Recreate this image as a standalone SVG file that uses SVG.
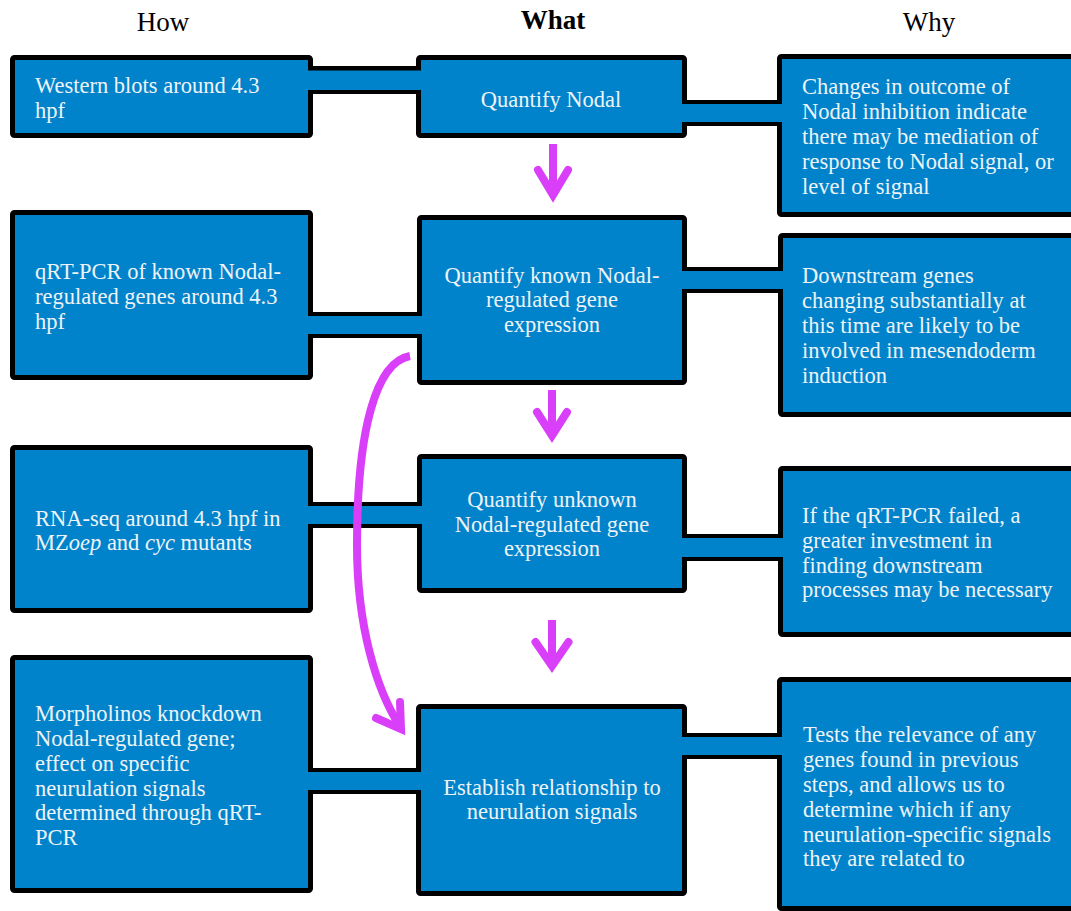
<svg xmlns="http://www.w3.org/2000/svg" width="1071" height="911" viewBox="0 0 1071 911">
<style>
.box{fill:#0083CA;stroke:#000;stroke-width:5;}
.t{font-family:"Liberation Serif","Times New Roman",serif;font-size:22.5px;fill:#EEF3F8;}
.c{text-anchor:middle;}
.h{font-family:"Liberation Serif","Times New Roman",serif;font-size:27px;fill:#000;text-anchor:middle;}
.band{fill:#000;}
.fillb{fill:#0083CA;}
.arr{stroke:#D93FF8;stroke-width:8;fill:none;}
.head{stroke:#D93FF8;stroke-width:8;fill:none;stroke-linecap:round;stroke-linejoin:miter;stroke-miterlimit:10;}
</style>
<rect width="1071" height="911" fill="#fff"/>
<g id="headers">
<text class="h" x="163" y="31">How</text>
<text class="h" x="553" y="29" font-weight="bold">What</text>
<text class="h" x="929" y="31">Why</text>
</g>
<g id="how1"><rect class="box" x="12.5" y="57.5" width="298" height="78" rx="2"/>
<text class="t" x="35" y="93">Western blots around 4.3</text><text class="t" x="35" y="118">hpf</text></g>
<g id="what1"><rect class="box" x="418.5" y="57.5" width="266" height="78" rx="2"/>
<text class="t c" x="551" y="107">Quantify Nodal</text></g>
<g id="why1"><rect class="box" x="779.5" y="56.5" width="300" height="158" rx="2"/>
<text class="t" x="802" y="94">Changes in outcome of</text><text class="t" x="802" y="119">Nodal inhibition indicate</text><text class="t" x="802" y="144">there may be mediation of</text><text class="t" x="802" y="169">response to Nodal signal, or</text><text class="t" x="802" y="194">level of signal</text></g>
<g id="how2"><rect class="box" x="12.5" y="212.5" width="298" height="165" rx="2"/>
<text class="t" x="35" y="279">qRT-PCR of known Nodal-</text><text class="t" x="35" y="304">regulated genes around 4.3</text><text class="t" x="35" y="329">hpf</text></g>
<g id="what2"><rect class="box" x="419.5" y="217.5" width="265" height="165" rx="2"/>
<text class="t c" x="552" y="283">Quantify known Nodal-</text><text class="t c" x="552" y="307">regulated gene</text><text class="t c" x="552" y="332">expression</text></g>
<g id="why2"><rect class="box" x="780.5" y="235.5" width="300" height="179" rx="2"/>
<text class="t" x="802" y="283">Downstream genes</text><text class="t" x="802" y="308">changing substantially at</text><text class="t" x="802" y="333">this time are likely to be</text><text class="t" x="802" y="358">involved in mesendoderm</text><text class="t" x="802" y="383">induction</text></g>
<g id="how3"><rect class="box" x="12.5" y="447.5" width="298" height="163" rx="2"/>
<text class="t" x="35" y="526">RNA-seq around 4.3 hpf in</text><text class="t" x="35" y="550">MZ<tspan font-style="italic">oep</tspan> and <tspan font-style="italic">cyc</tspan> mutants</text></g>
<g id="what3"><rect class="box" x="419.5" y="456.5" width="265" height="134" rx="2"/>
<text class="t c" x="552" y="507">Quantify unknown</text><text class="t c" x="552" y="532">Nodal-regulated gene</text><text class="t c" x="552" y="556">expression</text></g>
<g id="why3"><rect class="box" x="780.5" y="468.5" width="300" height="166" rx="2"/>
<text class="t" x="802" y="523">If the qRT-PCR failed, a</text><text class="t" x="802" y="548">greater investment in</text><text class="t" x="802" y="573">finding downstream</text><text class="t" x="802" y="597">processes may be necessary</text></g>
<g id="how4"><rect class="box" x="12.5" y="657.5" width="298" height="233" rx="2"/>
<text class="t" x="35" y="721">Morpholinos knockdown</text><text class="t" x="35" y="746">Nodal-regulated gene;</text><text class="t" x="35" y="771">effect on specific</text><text class="t" x="35" y="796">neurulation signals</text><text class="t" x="35" y="820">determined through qRT-</text><text class="t" x="35" y="845">PCR</text></g>
<g id="what4"><rect class="box" x="418.5" y="706.5" width="266" height="187" rx="2"/>
<text class="t c" x="552" y="795">Establish relationship to</text><text class="t c" x="552" y="819">neurulation signals</text></g>
<g id="why4"><rect class="box" x="779.5" y="679.5" width="300" height="229" rx="2"/>
<text class="t" x="803" y="742">Tests the relevance of any</text><text class="t" x="803" y="767">genes found in previous</text><text class="t" x="803" y="792">steps, and allows us to</text><text class="t" x="803" y="817">determine which if any</text><text class="t" x="803" y="842">neurulation-specific signals</text><text class="t" x="803" y="866">they are related to</text></g>
<g id="connectors">
<rect class="band" x="311" y="66" width="108" height="28"/><rect class="fillb" x="306" y="70.5" width="118" height="19.5"/>
<rect class="band" x="685" y="100" width="95" height="26"/><rect class="fillb" x="680" y="104" width="105" height="18"/>
<rect class="band" x="311" y="312" width="109" height="26"/><rect class="fillb" x="306" y="316" width="119" height="18"/>
<rect class="band" x="685" y="267" width="96" height="26"/><rect class="fillb" x="680" y="271" width="106" height="18"/>
<rect class="band" x="311" y="502" width="109" height="26"/><rect class="fillb" x="306" y="506" width="119" height="18"/>
<rect class="band" x="685" y="534" width="96" height="27"/><rect class="fillb" x="680" y="538" width="106" height="19"/>
<rect class="band" x="311" y="768" width="108" height="26"/><rect class="fillb" x="306" y="772" width="118" height="18"/>
<rect class="band" x="685" y="733" width="95" height="26"/><rect class="fillb" x="680" y="737" width="105" height="18"/>
<path class="arr" d="M553,144 V196"/><polyline class="head" points="538,170 553,195 568,170"/>
<path class="arr" d="M552,390 V436"/><polyline class="head" points="537,412 552,435.5 567,412"/>
<path class="arr" d="M552,620 V667"/><polyline class="head" points="535.5,642 552,666 568.5,642"/>
<path class="arr" stroke-width="7" d="M410,356 C376,362 357,430 357,545 C357,625 376,690 401,728"/>
<polyline class="head" points="376,718 401,729 400,702"/>
</g>
</svg>
